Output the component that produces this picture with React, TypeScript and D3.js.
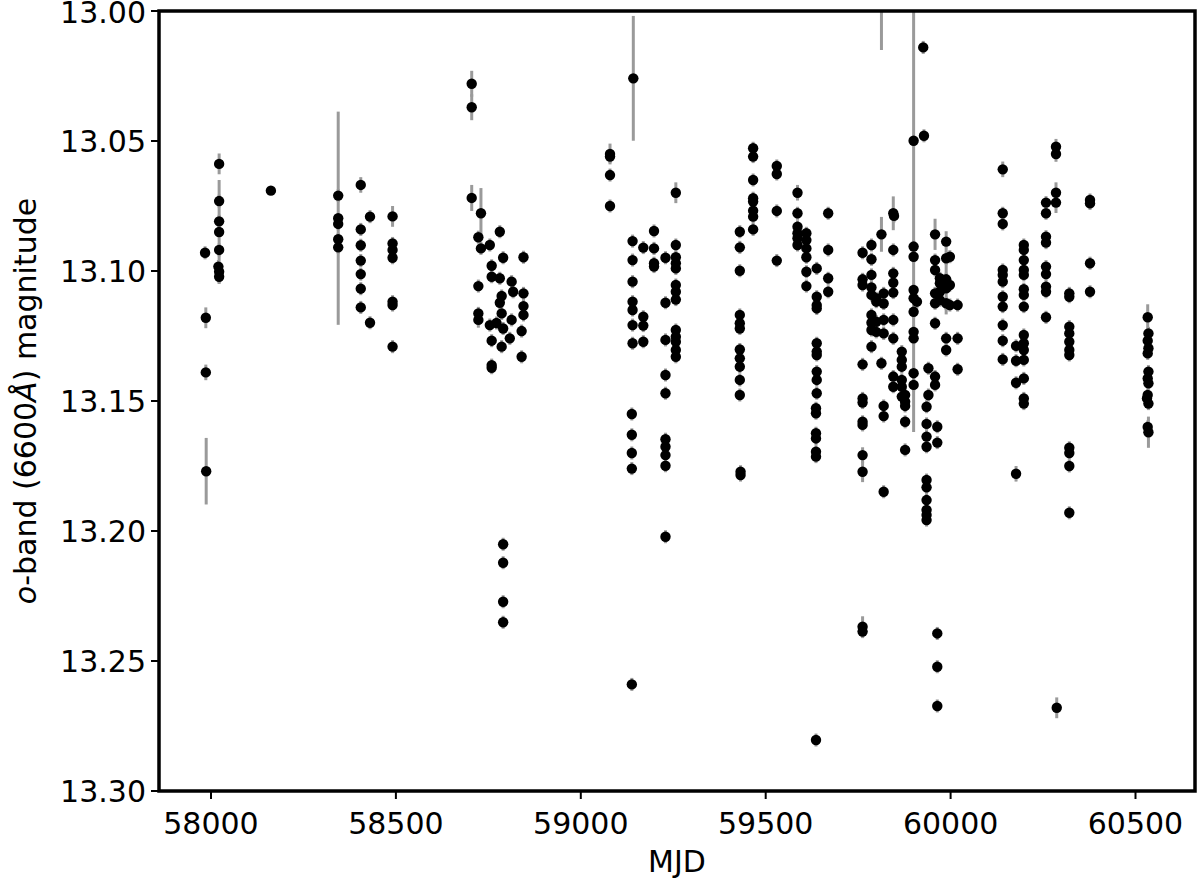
import React from "react";
import * as d3 from "d3";

// [MJD, magnitude, error]  (error omitted -> small default)
type Obs = [number, number, number?];

const season2017: Obs[] = [
  [57984, 13.093], [57986, 13.118, 0.004], [57986, 13.139, 0.003], [57987, 13.177, 0.0128],
  [58022, 13.0588, 0.004], [58022, 13.0731], [58022, 13.0809], [58022, 13.085, 0.02],
  [58022, 13.0919], [58020, 13.0983], [58022, 13.1003], [58022, 13.1022],
  [58162, 13.0691, 0.001],
];

const season2018: Obs[] = [
  [58344, 13.071], [58344, 13.0797, 0.041], [58344, 13.0819], [58344, 13.0878], [58344, 13.0909],
  [58405, 13.0669, 0.003], [58405, 13.084], [58405, 13.0901], [58405, 13.096], [58405, 13.1012],
  [58405, 13.1068], [58405, 13.114],
  [58430, 13.0791], [58430, 13.1199],
  [58491, 13.079, 0.004], [58491, 13.0894], [58491, 13.0919], [58491, 13.0949], [58491, 13.1118],
  [58491, 13.1131], [58491, 13.1291],
  [58705, 13.028, 0.005], [58705, 13.037, 0.005], [58705, 13.0719, 0.005],
  [58723, 13.087], [58723, 13.1058], [58723, 13.1163], [58723, 13.1188, 0.003],
  [58730, 13.0778, 0.0097], [58730, 13.0913],
  [58754, 13.09], [58754, 13.1208],
  [58759, 13.098], [58759, 13.1022], [58759, 13.1268], [58759, 13.1362], [58759, 13.1372],
  [58772, 13.12],
  [58781, 13.0849], [58781, 13.1028], [58781, 13.1122],
  [58786, 13.1096], [58786, 13.1163], [58786, 13.1291],
  [58790, 13.0949], [58790, 13.1221], [58790, 13.2051], [58790, 13.2122], [58790, 13.2272], [58790, 13.2351],
  [58808, 13.1259],
  [58813, 13.1041], [58813, 13.1188], [58817, 13.108],
  [58845, 13.0947], [58845, 13.1086], [58845, 13.1135], [58845, 13.1169], [58840, 13.1231], [58840, 13.133],
];

const season2020: Obs[] = [
  [59079, 13.055, 0.004], [59079, 13.056], [59079, 13.0631], [59079, 13.075],
  [59142, 13.0259, 0.024],
  [59140, 13.0885], [59140, 13.0958], [59140, 13.1041], [59140, 13.1118], [59140, 13.115],
  [59140, 13.1208], [59140, 13.1278], [59138, 13.155], [59138, 13.163], [59138, 13.17],
  [59138, 13.176], [59138, 13.259],
  [59169, 13.091], [59169, 13.1176], [59169, 13.121], [59169, 13.1272],
  [59198, 13.0846], [59198, 13.0913], [59198, 13.097], [59198, 13.0983],
  [59229, 13.0949], [59229, 13.1122], [59229, 13.1265], [59229, 13.14], [59229, 13.147],
  [59229, 13.1647], [59229, 13.1676], [59229, 13.1708], [59229, 13.1749], [59229, 13.2022],
  [59257, 13.0699, 0.004], [59257, 13.09], [59257, 13.0947], [59257, 13.097], [59257, 13.099],
  [59257, 13.1054], [59257, 13.108], [59257, 13.111], [59257, 13.1227], [59257, 13.1253],
  [59257, 13.1272], [59257, 13.1304], [59257, 13.133],
];

const season2021: Obs[] = [
  [59430, 13.0849], [59430, 13.0909], [59430, 13.0999], [59430, 13.1169], [59430, 13.1201],
  [59430, 13.1221], [59430, 13.1302], [59430, 13.1336], [59430, 13.1368], [59430, 13.1419],
  [59430, 13.1477], [59432, 13.1772], [59432, 13.1785],
  [59466, 13.0528], [59466, 13.056], [59466, 13.065], [59466, 13.072], [59466, 13.0733],
  [59466, 13.0768], [59466, 13.0791], [59466, 13.084],
  [59530, 13.0596], [59530, 13.0627], [59530, 13.0769], [59530, 13.096],
  [59586, 13.0699, 0.003], [59586, 13.0778], [59586, 13.083], [59586, 13.0855], [59586, 13.0874], [59586, 13.09],
  [59610, 13.0855], [59610, 13.0881], [59610, 13.0913], [59610, 13.0947], [59610, 13.1003], [59610, 13.1058],
  [59638, 13.099], [59638, 13.1099], [59638, 13.1131], [59638, 13.1144], [59638, 13.1278],
  [59638, 13.131], [59638, 13.1323], [59638, 13.1387], [59638, 13.1419], [59638, 13.147],
  [59636, 13.1528], [59636, 13.1547], [59636, 13.1624], [59636, 13.1644], [59636, 13.1695],
  [59636, 13.1714], [59636, 13.2804],
  [59669, 13.0778], [59669, 13.0919], [59669, 13.1028], [59669, 13.108],
];

const season2022: Obs[] = [
  [59762, 13.093], [59762, 13.1032], [59762, 13.1054], [59762, 13.1359], [59762, 13.149],
  [59762, 13.1506], [59762, 13.158], [59762, 13.1592], [59762, 13.1708, 0.003], [59762, 13.1772, 0.004],
  [59762, 13.2368, 0.004], [59762, 13.2387],
  [59786, 13.09], [59786, 13.0955], [59786, 13.1015], [59786, 13.1063], [59786, 13.1092],
  [59786, 13.1169], [59786, 13.1199], [59786, 13.1227], [59786, 13.1291],
  [59799, 13.1105], [59799, 13.1118], [59799, 13.1195], [59799, 13.1234],
  [59813, 12.995, 0.02], [59813, 13.0859, 0.0067], [59813, 13.1355],
  [59819, 13.1086], [59819, 13.1125], [59819, 13.1188], [59819, 13.124], [59819, 13.1519],
  [59819, 13.1558], [59819, 13.1849],
  [59845, 13.0778, 0.0065], [59847, 13.0788], [59845, 13.0919], [59845, 13.1009], [59845, 13.1045],
  [59845, 13.1083], [59845, 13.1188], [59845, 13.1259], [59845, 13.1406], [59845, 13.1445],
  [59868, 13.131], [59868, 13.1342], [59868, 13.1368], [59868, 13.1419], [59868, 13.1445], [59868, 13.1483],
  [59877, 13.1477], [59877, 13.1503], [59877, 13.1519], [59877, 13.158], [59877, 13.1688],
  [59900, 13.0499, 0.112], [59900, 13.0906], [59900, 13.0945], [59900, 13.1073], [59900, 13.1105],
  [59900, 13.1157], [59900, 13.1234], [59900, 13.1259], [59900, 13.1393], [59900, 13.1438],
  [59909, 13.1118],
  [59926, 13.014], [59928, 13.048],
  [59940, 13.1374], [59940, 13.1477], [59935, 13.1522], [59935, 13.1588], [59935, 13.1637],
  [59935, 13.1676], [59935, 13.1804], [59935, 13.1832], [59935, 13.1881], [59935, 13.1919],
  [59935, 13.1938], [59935, 13.1958],
  [59958, 13.0859, 0.006], [59958, 13.0958], [59958, 13.0996], [59958, 13.1086], [59958, 13.1124],
  [59958, 13.1201], [59958, 13.1406], [59958, 13.1438],
  [59964, 13.1599], [59964, 13.166], [59964, 13.2394], [59964, 13.2522], [59964, 13.2673],
  [59971, 13.1028], [59971, 13.1047], [59971, 13.108], [59971, 13.1112],
  [59988, 13.0887, 0.004], [59988, 13.0951], [59988, 13.1032], [59988, 13.1067, 0.01],
  [59988, 13.1124], [59988, 13.1259], [59988, 13.1304],
  [59998, 13.0945], [59998, 13.1054], [59998, 13.1131],
  [60019, 13.1131], [60019, 13.1259], [60019, 13.1378],
];

const season2023: Obs[] = [
  [60141, 13.0609, 0.003], [60141, 13.0778], [60141, 13.0819], [60141, 13.0996], [60141, 13.1015],
  [60141, 13.1041], [60141, 13.1099], [60141, 13.1137], [60141, 13.1208], [60141, 13.1268], [60141, 13.134],
  [60177, 13.1288], [60177, 13.1345], [60177, 13.143], [60177, 13.178, 0.003],
  [60198, 13.09], [60198, 13.0919], [60198, 13.0958], [60198, 13.0996], [60198, 13.1015],
  [60198, 13.107], [60198, 13.1092], [60198, 13.1137], [60198, 13.1246], [60198, 13.1278],
  [60198, 13.1304], [60198, 13.1342], [60198, 13.1413], [60198, 13.149], [60198, 13.151],
  [60258, 13.0737], [60258, 13.0778], [60258, 13.0868], [60258, 13.0891], [60258, 13.0983],
  [60258, 13.1012], [60258, 13.106], [60258, 13.108], [60258, 13.1178],
  [60285, 13.0522, 0.003], [60285, 13.055, 0.003], [60285, 13.0699, 0.004], [60285, 13.0737, 0.004],
  [60287, 13.268, 0.004],
  [60321, 13.1086], [60321, 13.1099], [60321, 13.1214], [60321, 13.124], [60321, 13.1272],
  [60321, 13.1304], [60321, 13.1323], [60321, 13.168], [60321, 13.17], [60321, 13.175], [60321, 13.193],
  [60377, 13.0727], [60377, 13.074], [60377, 13.097], [60377, 13.108],
];

const season2024: Obs[] = [
  [60533, 13.1178, 0.005], [60535, 13.124], [60533, 13.1268], [60535, 13.1297], [60533, 13.1317],
  [60535, 13.1387], [60533, 13.1413], [60535, 13.1432], [60533, 13.1477], [60531, 13.149],
  [60535, 13.151], [60533, 13.16], [60535, 13.162, 0.006],
];

const xTicks = [58000, 58500, 59000, 59500, 60000, 60500];
const yTicks = [13.0, 13.05, 13.1, 13.15, 13.2, 13.25, 13.3];

const allObs: Obs[] = [
  ...season2017, ...season2018, ...season2020, ...season2021,
  ...season2022, ...season2023, ...season2024,
];

const W = 1200;
const H = 883;
const left = 159, right = 1195, top = 11, bottom = 791;
const FONT = "'DejaVu Sans', sans-serif";
const FS = 30;

export default function App() {
  const x = d3.scaleLinear().domain([57859.4, 60660.9]).range([left, right]);
  const y = d3.scaleLinear().domain([13.0, 13.3]).range([top, bottom]);
  const fmt = d3.format(".2f");

  return (
    <svg width={W} height={H} style={{ position: "absolute", left: 0, top: 0, background: "#fff" }}>
      <defs>
        <clipPath id="plotClip">
          <rect x={left} y={top} width={right - left} height={bottom - top} />
        </clipPath>
      </defs>

      {/* error bars */}
      <g clipPath="url(#plotClip)" stroke="#9a9a9a" strokeWidth={3}>
        {allObs.map((d, i) => {
          const e = d[2] ?? 0.0025;
          return <line key={i} x1={x(d[0])} x2={x(d[0])} y1={y(d[1] - e)} y2={y(d[1] + e)} />;
        })}
      </g>

      {/* points */}
      <g clipPath="url(#plotClip)" fill="#000">
        {allObs.map((d, i) => (
          <circle key={i} cx={x(d[0])} cy={y(d[1])} r={5.2} />
        ))}
      </g>

      {/* frame */}
      <rect x={left} y={top} width={right - left} height={bottom - top} fill="none" stroke="#000" strokeWidth={3.5} />

      {/* axes */}
      <g fontFamily={FONT} fontSize={FS} fill="#000">
        {yTicks.map((t) => (
          <g key={t}>
            <line x1={left - 8} x2={left} y1={y(t)} y2={y(t)} stroke="#000" strokeWidth={2} />
            <text x={left - 13} y={Math.max(y(t), 12)} dy="0.36em" textAnchor="end">{fmt(t)}</text>
          </g>
        ))}
        {xTicks.map((t) => (
          <g key={t}>
            <line x1={x(t)} x2={x(t)} y1={bottom} y2={bottom + 8} stroke="#000" strokeWidth={2} />
            <text x={x(t)} y={bottom + 43} textAnchor="middle">{t}</text>
          </g>
        ))}
        <text x={(left + right) / 2} y={872} textAnchor="middle">MJD</text>
        <text transform={`translate(36, ${(top + bottom) / 2}) rotate(-90)`} textAnchor="middle">
          <tspan fontStyle="italic">o</tspan>
          <tspan>-band (6600</tspan>
          <tspan fontStyle="italic">Å</tspan>
          <tspan>) magnitude</tspan>
        </text>
      </g>
    </svg>
  );
}
